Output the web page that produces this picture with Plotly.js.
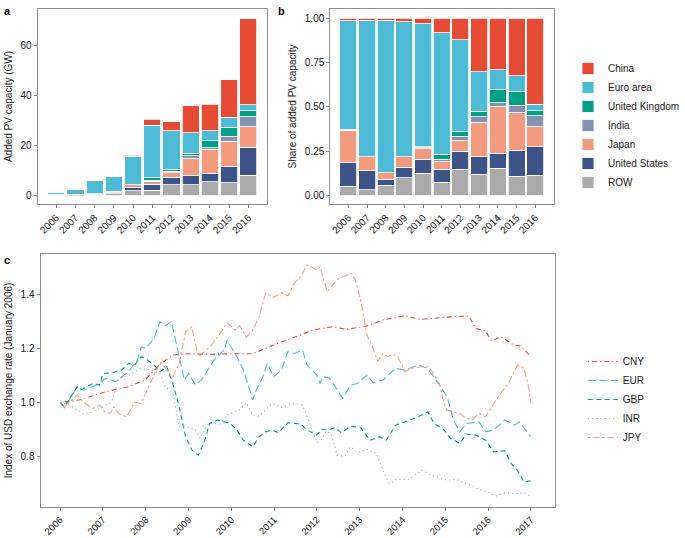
<!DOCTYPE html>
<html>
<head>
<meta charset="utf-8">
<script src="https://cdn.plot.ly/plotly-3.0.1.min.js"></script>
<style>html,body{margin:0;padding:0;background:#fff;}#chart{width:685px;height:538px;}</style>
</head>
<body>
<div id="chart"></div>
<script>
// ---- Panel a / b data: added PV capacity (GW) by region ----
var years = ['2006','2007','2008','2009','2010','2011','2012','2013','2014','2015','2016'];
var ROW    = [0.08, 0.08, 0.36, 0.78, 2.04, 2.30, 4.43, 4.32, 5.69, 5.12, 8.14];
var US     = [0.20, 0.27, 0.18, 0.47, 1.30, 2.30, 2.95, 3.60, 3.12, 6.74, 11.33];
var Japan  = [0.28, 0.20, 0.24, 0.47, 0.98, 1.23, 1.77, 7.02, 9.73, 10.00, 8.14];
var India  = [0.00, 0.00, 0.00, 0.00, 0.08, 0.46, 0.74, 1.08, 0.73, 1.86, 4.25];
var UK     = [0.01, 0.00, 0.00, 0.00, 0.08, 0.92, 0.74, 1.08, 2.75, 3.72, 2.12];
var Euro   = [0.93, 1.92, 5.16, 5.93, 11.33, 21.02, 15.34, 8.10, 4.04, 3.95, 2.48];
var China  = [0.02, 0.03, 0.06, 0.16, 0.49, 2.46, 3.54, 10.80, 10.64, 15.11, 34.34];

var regionNames  = ['ROW','United States','Japan','India','United Kingdom','Euro area','China'];
var regionValues = [ROW, US, Japan, India, UK, Euro, China];
var regionColors = ['#ABABAB','#3C5488','#F39B7F','#8491B4','#00A087','#4DBBD5','#E64B35'];

// ---- Panel c data: index of USD exchange rate (January 2006 = 1) ----
var cnyX = [2006.0,2006.2,2006.47,2007.07,2007.6,2007.98,2008.33,2008.63,2009.0,2009.5,2010.0,2010.5,2010.95,2011.47,2011.92,2012.37,2012.7,2013.17,2013.54,2014.05,2014.42,2015.0,2015.55,2015.7,2015.93,2016.08,2016.3,2016.6,2016.76,2017.0];
var cnyY = [1.0,1.003,1.01,1.04,1.058,1.083,1.14,1.175,1.18,1.178,1.18,1.18,1.21,1.24,1.268,1.28,1.27,1.283,1.305,1.32,1.307,1.315,1.32,1.274,1.265,1.228,1.243,1.212,1.209,1.169];

var eurX = [2006.0,2006.1,2006.4,2006.54,2006.84,2007.07,2007.3,2007.6,2007.8,2007.9,2008.0,2008.19,2008.33,2008.45,2008.6,2008.75,2008.9,2009.0,2009.16,2009.3,2009.6,2009.83,2009.9,2010.13,2010.28,2010.5,2010.58,2010.72,2010.84,2010.99,2011.17,2011.32,2011.47,2011.66,2011.77,2012.0,2012.07,2012.15,2012.3,2012.6,2012.79,2012.94,2013.17,2013.31,2013.54,2013.84,2014.05,2014.37,2014.59,2014.89,2015.04,2015.19,2015.34,2015.49,2015.79,2015.94,2016.13,2016.39,2016.62,2016.73,2017.0];
var eurY = [1.0,0.98,1.058,1.045,1.064,1.089,1.077,1.114,1.157,1.206,1.2,1.237,1.299,1.283,1.299,1.194,1.083,1.107,1.064,1.083,1.157,1.194,1.23,1.169,1.12,1.009,1.046,1.089,1.144,1.095,1.12,1.188,1.181,1.194,1.138,1.101,1.07,1.095,1.089,1.015,1.064,1.07,1.101,1.073,1.083,1.126,1.12,1.138,1.126,1.058,1.021,0.935,0.891,0.922,0.928,0.891,0.898,0.935,0.916,0.928,0.873];

var gbpX = [2006.0,2006.1,2006.4,2006.47,2006.77,2006.92,2007.0,2007.22,2007.44,2007.6,2007.74,2007.89,2008.04,2008.19,2008.34,2008.49,2008.63,2008.78,2008.93,2009.08,2009.23,2009.38,2009.49,2009.68,2009.83,2009.98,2010.13,2010.28,2010.5,2010.65,2010.8,2010.95,2011.1,2011.32,2011.62,2011.77,2012.0,2012.1,2012.27,2012.42,2012.57,2012.79,2013.02,2013.24,2013.47,2013.62,2013.84,2014.14,2014.37,2014.59,2014.74,2014.97,2015.12,2015.34,2015.49,2015.72,2015.94,2016.13,2016.39,2016.54,2016.69,2016.84,2017.0];
var gbpY = [1.0,0.985,1.058,1.046,1.07,1.064,1.107,1.11,1.12,1.144,1.138,1.169,1.157,1.138,1.114,1.132,1.07,0.984,0.873,0.823,0.805,0.86,0.922,0.935,0.928,0.922,0.898,0.86,0.836,0.873,0.891,0.898,0.888,0.925,0.92,0.898,0.879,0.9,0.898,0.907,0.888,0.912,0.907,0.86,0.873,0.86,0.916,0.935,0.947,0.965,0.922,0.898,0.867,0.848,0.883,0.879,0.86,0.817,0.821,0.774,0.747,0.706,0.71];

var inrX = [2006.0,2006.22,2006.54,2006.77,2007.0,2007.2,2007.37,2007.6,2007.89,2008.11,2008.34,2008.45,2008.63,2008.78,2008.93,2009.16,2009.27,2009.46,2009.75,2009.9,2010.2,2010.35,2010.5,2010.65,2010.95,2011.17,2011.47,2011.66,2011.77,2012.0,2012.1,2012.22,2012.34,2012.47,2012.64,2012.79,2012.94,2013.17,2013.39,2013.54,2013.69,2013.84,2014.14,2014.44,2014.74,2015.04,2015.27,2015.57,2015.79,2016.0,2016.17,2016.39,2016.69,2016.84,2017.0];
var inrY = [1.0,0.99,0.957,0.965,0.984,1.0,1.089,1.1,1.126,1.12,1.105,1.058,1.036,0.91,0.912,0.898,0.867,0.922,0.92,0.953,0.974,0.999,0.953,0.949,0.996,0.981,0.996,0.99,0.947,0.851,0.863,0.894,0.88,0.805,0.8,0.836,0.814,0.826,0.811,0.749,0.7,0.715,0.715,0.749,0.727,0.712,0.715,0.694,0.678,0.669,0.653,0.665,0.663,0.665,0.653];

var jpyX = [2006.0,2006.1,2006.4,2006.54,2006.77,2006.92,2007.07,2007.18,2007.25,2007.37,2007.55,2007.74,2007.89,2008.0,2008.19,2008.34,2008.49,2008.63,2008.78,2008.93,2009.07,2009.23,2009.38,2009.53,2009.68,2009.9,2010.09,2010.2,2010.35,2010.5,2010.65,2010.8,2010.99,2011.17,2011.32,2011.47,2011.62,2011.77,2012.0,2012.07,2012.24,2012.47,2012.72,2012.79,2012.9,2013.02,2013.17,2013.31,2013.42,2013.54,2013.65,2013.77,2013.89,2014.05,2014.22,2014.44,2014.62,2014.86,2014.97,2015.04,2015.19,2015.34,2015.49,2015.64,2015.79,2015.94,2016.09,2016.24,2016.47,2016.69,2016.84,2016.96,2017.0];
var jpyY = [1.0,0.984,1.027,1.0,0.978,0.99,0.959,0.962,0.984,0.959,0.947,1.0,0.996,1.033,1.095,1.151,1.12,1.095,1.144,1.262,1.28,1.169,1.188,1.212,1.241,1.295,1.268,1.283,1.241,1.268,1.317,1.404,1.389,1.406,1.394,1.441,1.465,1.509,1.49,1.502,1.41,1.455,1.472,1.478,1.453,1.379,1.249,1.2,1.151,1.181,1.169,1.179,1.169,1.114,1.126,1.132,1.132,1.07,0.996,0.972,0.965,0.959,0.941,0.937,0.959,0.947,0.984,1.021,1.07,1.138,1.126,1.046,0.996];

var currencyNames  = ['CNY','EUR','GBP','INR','JPY'];
var currencyX      = [cnyX, eurX, gbpX, inrX, jpyX];
var currencyY      = [cnyY, eurY, gbpY, inrY, jpyY];
var currencyColors = ['#E64B35','#4DBBD5','#00A087','#A9A6D3','#F7A184'];
var currencyDash   = ['1.2px,3px,5px,3px','8px,3.5px','5px,3.5px','1.2px,3px','2.5px,2.5px,7px,2.5px'];
var yearTicks = [2006,2007,2008,2009,2010,2011,2012,2013,2014,2015,2016,2017];

// ---- build traces ----
var totals = years.map(function(_, i){
  var s = 0; regionValues.forEach(function(v){ s += v[i]; }); return s;
});
var traces = [];
regionNames.forEach(function(name, k){
  traces.push({
    type:'bar', x: years, y: regionValues[k], name: name,
    marker:{color: regionColors[k], line:{color:'#ffffff', width:0.8}},
    width: 0.89, xaxis:'x', yaxis:'y', showlegend:false, legendgroup:name,
    hoverinfo:'skip'
  });
});
regionNames.forEach(function(name, k){
  traces.push({
    type:'bar', x: years, y: regionValues[k].map(function(v,i){ return v/totals[i]; }), name: name,
    marker:{color: regionColors[k], line:{color:'#ffffff', width:0.8}},
    width: 0.91, xaxis:'x2', yaxis:'y2', showlegend:true, legend:'legend', legendgroup:name,
    hoverinfo:'skip'
  });
});
currencyNames.forEach(function(name, k){
  traces.push({
    type:'scatter', mode:'lines', x: currencyX[k], y: currencyY[k], name: name,
    line:{color: currencyColors[k], width:1.1, dash: currencyDash[k]},
    xaxis:'x3', yaxis:'y3', legend:'legend2', hoverinfo:'skip'
  });
});

var W = 685, H = 538;
function px(x){ return x / W; }
function py(y){ return 1 - y / H; }
var font = {family:'Liberation Sans, Arial, sans-serif', size:10, color:'#222'};
var axisBase = {
  showline:true, linecolor:'#8c8c8c', linewidth:1, mirror:true,
  ticks:'outside', ticklen:3, tickcolor:'#8c8c8c', tickwidth:1,
  showgrid:false, zeroline:false, tickfont:{family:font.family, size:10, color:'#222'}
};
function ax(extra){ return Object.assign({}, axisBase, extra); }

var layout = {
  width: W, height: H,
  margin:{l:0, r:0, t:0, b:0},
  paper_bgcolor:'#fff', plot_bgcolor:'#fff',
  font: font,
  barmode:'stack',
  xaxis: ax({domain:[px(39), px(276.7)], anchor:'y', type:'category', range:[-0.97, 10.97], tickangle:-45}),
  yaxis: ax({domain:[py(204), py(9)], anchor:'x', range:[-3.3, 74.7], tickvals:[0,20,40,60],
             title:{text:'Added PV capacity (GW)', font:{size:10, color:'#222'}, standoff:6}}),
  xaxis2: ax({domain:[px(342.3), px(574)], anchor:'y2', type:'category', range:[-0.97, 11.0], tickangle:-45}),
  yaxis2: ax({domain:[py(204), py(9)], anchor:'x2', range:[-0.047, 1.0525], tickvals:[0,0.25,0.5,0.75,1], tickformat:'.2f',
             title:{text:'Share of added PV capacity', font:{size:10, color:'#222'}, standoff:6}}),
  xaxis3: ax({domain:[px(42), px(575)], anchor:'y3', range:[2005.54, 2017.56], tickvals:yearTicks, tickangle:-45,
             ticklen:2.5, tickfont:{family:font.family, size:9.5, color:'#222'}}),
  yaxis3: ax({domain:[py(507), py(254)], anchor:'x3', range:[0.613, 1.549], tickvals:[0.8,1.0,1.2,1.4], tickformat:'.1f',
             title:{text:'Index of USD exchange rate (January 2006)', font:{size:10, color:'#222'}, standoff:6}}),
  legend:{x:px(589), y:py(54), xanchor:'left', yanchor:'top', traceorder:'reversed',
          font:{family:font.family, size:10, color:'#222'}, bgcolor:'rgba(0,0,0,0)', itemwidth:30, tracegroupgap:0},
  legend2:{x:px(604), y:py(347), xanchor:'left', yanchor:'top', traceorder:'normal',
          font:{family:font.family, size:10, color:'#222'}, bgcolor:'rgba(0,0,0,0)', itemwidth:30},
  annotations:[
    {text:'<b>a</b>', x:px(2), y:py(3), xref:'paper', yref:'paper', xanchor:'left', yanchor:'top', showarrow:false, font:{family:font.family, size:11, color:'#000'}},
    {text:'<b>b</b>', x:px(286), y:py(3), xref:'paper', yref:'paper', xanchor:'left', yanchor:'top', showarrow:false, font:{family:font.family, size:11, color:'#000'}},
    {text:'<b>c</b>', x:px(2), y:py(252), xref:'paper', yref:'paper', xanchor:'left', yanchor:'top', showarrow:false, font:{family:font.family, size:11, color:'#000'}}
  ]
};

Plotly.newPlot('chart', traces, layout, {displayModeBar:false, staticPlot:true});
</script>
</body>
</html>
